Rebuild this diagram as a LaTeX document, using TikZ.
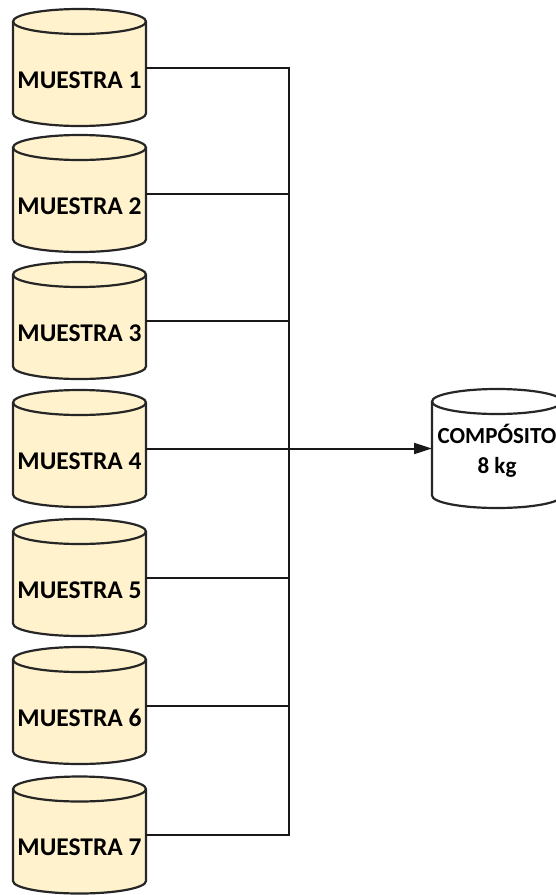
\documentclass[tikz,border=0pt]{standalone}
\usepackage{fontspec}
\setmainfont{Carlito}
\usetikzlibrary{arrows.meta,calc}
\definecolor{cylfill}{HTML}{FFF2CC}
\tikzset{
  cylbox/.style={minimum width=133pt, minimum height=117pt, inner sep=0pt, outer sep=0pt},
  compbox/.style={minimum width=130pt, minimum height=119pt, inner sep=0pt, outer sep=0pt},
  lab/.style={font=\bfseries\fontsize{25.5}{28}\selectfont, text=black, inner sep=0pt},
  clab/.style={font=\bfseries\fontsize{23}{30}\selectfont, text=black, inner sep=0pt, align=center},
  wire/.style={line width=2pt, draw=black!90},
  cylline/.style={line width=2.2pt, draw=black!85},
}
\newcommand{\drawcyl}[3]{%
  \path[cylline, fill=#2] ($(#1.north west)+(0,-12.5pt)$) -- ($(#1.south west)+(0,12.5pt)$)
    arc[start angle=180,end angle=360,x radius=#3,y radius=12.5pt]
    -- ($(#1.north east)+(0,-12.5pt)$)
    arc[start angle=0,end angle=180,x radius=#3,y radius=12.5pt] -- cycle;
  \draw[cylline] ($(#1.north west)+(0,-12.5pt)$)
    arc[start angle=180,end angle=360,x radius=#3,y radius=12.5pt];
}
\begin{document}
\begin{tikzpicture}[x=1pt,y=1pt]
  \useasboundingbox (0,0) rectangle (556,-895);
  % sample cylinders
  \foreach \i/\c in {1/67.5, 2/193.5, 3/320.5, 4/448.5, 5/577.5, 6/705.5, 7/835} {
    \node[cylbox] (m\i) at (79.5,-\c) {};
    \drawcyl{m\i}{cylfill}{66.5pt}
    \node[lab] (l\i) at ($(m\i.center)+(0,-12.5pt)$) {MUESTRA \i};
  }
  % composite
  \node[compbox] (comp) at (497,-448.5) {};
  \drawcyl{comp}{white}{65pt}
  \node[clab] (lc) at (497,-451) {COMPÓSITO\\8 kg};
  % bus
  \coordinate (j) at (289,-448.5);
  \foreach \i in {1,2,3,5,6,7} {
    \draw[wire] (m\i.east) -| (j);
  }
  \draw[wire, -{Triangle[length=18pt,width=11pt]}] (m4.east) -- (comp.west);
\end{tikzpicture}
\end{document}
